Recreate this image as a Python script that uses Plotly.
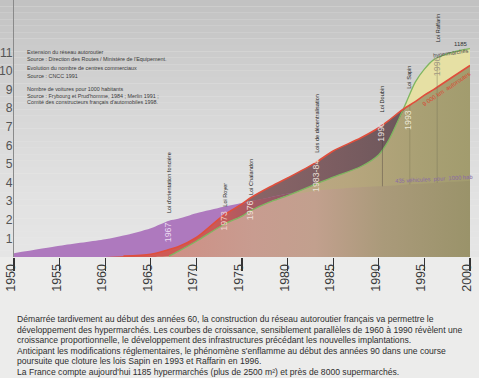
import numpy as np
import plotly.graph_objects as go

# ---------------- data ----------------
years = [1950, 1955, 1960, 1962, 1965, 1967, 1968, 1970, 1973, 1975, 1976, 1978, 1980,
         1983, 1985, 1988, 1990, 1991, 1992, 1993, 1994, 1995, 1996, 1998, 2000]
voitures = [0.2, 0.6, 0.95, 1.15, 1.55, 1.95, 2.05, 2.35, 2.7, 2.9, 3.0, 3.2, 3.4,
            3.55, 3.65, 3.75, 3.8, 3.83, 3.86, 3.9, 3.92, 3.95, 3.98, 4.04, 4.1]
autoroutes = [0, 0, 0, 0.05, 0.15, 0.4, 0.55, 1.05, 2.25, 2.85, 3.2, 3.75, 4.25,
              5.05, 5.7, 6.4, 6.95, 7.3, 7.7, 8.05, 8.35, 8.7, 9.0, 9.65, 10.3]
hypers = [0, 0, 0, 0, 0, 0.05, 0.3, 0.85, 1.75, 2.2, 2.5, 2.95, 3.3,
          3.9, 4.3, 4.85, 5.5, 6.2, 7.2, 8.3, 9.4, 10.1, 10.6, 11.0, 11.2]

x_ticks = [1950, 1955, 1960, 1965, 1970, 1975, 1980, 1985, 1990, 1995, 2000]
y_ticks = [1, 2, 3, 4, 5, 6, 7, 8, 9, 10, 11]

law_dates = ["1967", "1973", "1976", "1983-84", "1990", "1993", "1996"]
law_names = ["Loi d'orientation foncière", "Loi Royer", "Loi Chalandon",
             "Lois de décentralisation", "Loi Doubin", "Loi Sapin", "Loi Raffarin"]
law_years = [1966.9, 1973.0, 1975.9, 1983.1, 1990.2, 1993.2, 1996.4]

source_lines = [
    "Extension du réseau autoroutier",
    "Source : Direction des Routes / Ministère de l'Equipement.",
    "Evolution du nombre de centres commerciaux",
    "Source : CNCC 1991",
    "Nombre de voitures pour 1000 habitants",
    "Source : Frybourg et Prud'homme, 1984 ; Merlin 1991 ;",
    "Comité des constructeurs français d'automobiles 1998.",
]
paragraph = [
    "Démarrée tardivement au début des années 60, la construction du réseau autoroutier français va permettre le",
    "développement des hypermarchés. Les courbes de croissance, sensiblement parallèles de 1960 à 1990 révèlent une",
    "croissance proportionnelle, le développement des infrastructures précédant les nouvelles implantations.",
    "Anticipant les modifications réglementaires, le phénomène s'enflamme au début des années 90 dans une course",
    "poursuite que cloture les lois Sapin en 1993 et Raffarin en 1996.",
    "La France compte aujourd'hui 1185 hypermarchés (plus de 2500 m²) et près de 8000 supermarchés.",
]

# ---------------- layout helpers ----------------
W, H = 479, 378
L, R, T, B = 14, 9, 0, 121
PW, PH = W - L - R, H - T - B
FONT = "Liberation Sans, Arial, sans-serif"


def px_x(px):
    return (px - L) / PW


def px_y(py):
    return (H - B - py) / PH


v = np.array(voitures)
a = np.array(autoroutes)
h = np.array(hypers)
min_av = np.minimum(a, v)
min_ah = np.minimum(a, h)
min_all = np.minimum(min_av, h)

fig = go.Figure()


def area(y, color=None, grad=None):
    kw = dict(x=years, y=y, mode="lines", fill="tozeroy",
              line=dict(width=0, shape="spline", smoothing=0.8),
              hoverinfo="skip", showlegend=False)
    if grad is not None:
        kw["fillgradient"] = grad
    else:
        kw["fillcolor"] = color
    fig.add_trace(go.Scatter(**kw))


def hgrad(stops, start, stop):
    return dict(type="horizontal", start=start, stop=stop, colorscale=stops)


# hypermarchés alone (yellow)
area(h, color="#e6e0a4")
# autoroutes alone (dark mauve)
area(a, grad=hgrad([[0, "#8a6668"], [0.5, "#7e5e62"], [1, "#6c575b"]], 1975, 1993))
# voitures alone (purple)
area(v, color="#ae79be")
# autoroutes + voitures (red -> mauve)
area(min_av, grad=hgrad([[0, "#d65a52"], [0.55, "#c95a58"], [0.8, "#9a5a66"], [1, "#855a62"]], 1960, 1982))
# autoroutes + hypermarchés (light olive)
area(min_ah, grad=hgrad([[0, "#c0a888"], [0.4, "#b7a67e"], [0.75, "#a9a074"], [1, "#a29c6e"]], 1978, 2000))
# all three (salmon -> olive)
area(min_all, grad=hgrad([[0, "#cf8e84"], [0.3, "#c89c90"], [0.5, "#c2a08e"], [0.72, "#aa9a7a"],
                          [1, "#9a936a"]], 1966, 2000))

# curve lines
fig.add_trace(go.Scatter(x=years[5:], y=hypers[5:], mode="lines",
                         line=dict(color="#7fb660", width=1.3, shape="spline", smoothing=0.8),
                         hoverinfo="skip", showlegend=False))
fig.add_trace(go.Scatter(x=years[3:], y=autoroutes[3:], mode="lines",
                         line=dict(color="#e04e3c", width=1.6, shape="spline", smoothing=0.8),
                         hoverinfo="skip", showlegend=False))

# ---------------- background gradient ----------------
shapes = []
stops_y = [0.0, 0.25, 0.6, 1.0]
stops_c = [(230, 230, 230), (226, 226, 226), (214, 214, 214), (194, 194, 194)]
N = 40
for i in range(N):
    yc = (i + 0.5) / N
    rgb = [int(np.interp(yc, stops_y, [c[k] for c in stops_c])) for k in range(3)]
    shapes.append(dict(type="rect", xref="paper", yref="paper", x0=-0.05, x1=1.05,
                       y0=i / N, y1=(i + 1) / N, fillcolor="rgb(%d,%d,%d)" % tuple(rgb),
                       line=dict(width=0), layer="below"))

# vertical markers for 1990, 1993, 1996
for yr, col in [(1990, "rgba(70,60,60,0.5)"), (1993, "rgba(90,85,60,0.3)"), (1996, "rgba(120,115,90,0.55)")]:
    i = years.index(yr)
    shapes.append(dict(type="line", xref="x", yref="y", x0=yr + 0.4, x1=yr + 0.4,
                       y0=voitures[i], y1=max(hypers[i], autoroutes[i]) - 0.15,
                       line=dict(color=col, width=0.8), layer="above"))

annotations = []
# source text (top left)
src_y = [52, 59, 68, 76, 89, 96, 102]
for txt, py in zip(source_lines, src_y):
    annotations.append(dict(text=txt, xref="paper", yref="paper", x=px_x(25), y=px_y(py),
                            xanchor="left", yanchor="middle", showarrow=False,
                            font=dict(family=FONT, size=5.4, color="#3a3a3a")))

# law labels
date_y = [1.34, 1.94, 2.53, 4.35, 6.72, 7.37, 10.27]
date_col = ["#ecdcf2", "#f2d4ce", "#f0e0dc", "#ebe0d8", "#e8e0e0", "#eeead6", "#a29a82"]
name_y = [3.98, 3.33, 4.31, 7.2, 8.5, 9.68, 12.3]
for d, n, xx, dy, dc, ny in zip(law_dates, law_names, law_years, date_y, date_col, name_y):
    annotations.append(dict(text=d, x=xx, y=dy, xref="x", yref="y", textangle=-90,
                            showarrow=False, font=dict(family=FONT, size=8.8, color=dc)))
    annotations.append(dict(text=n, x=xx + 0.1, y=ny, xref="x", yref="y", textangle=-90,
                            showarrow=False, font=dict(family=FONT, size=5.6, color="#222222")))

annotations.append(dict(text="1185", x=1999.0, y=11.45, xref="x", yref="y", showarrow=False,
                        font=dict(family=FONT, size=6, color="#333")))
annotations.append(dict(text="hypermarchés", x=1997.9, y=10.95, xref="x", yref="y", showarrow=False,
                        textangle=-8, font=dict(family=FONT, size=5.6, color="#444")))
annotations.append(dict(text="435 véhicules  pour  1000 hab", x=1996.0, y=4.2, xref="x", yref="y",
                        showarrow=False, textangle=-3,
                        font=dict(family=FONT, size=5.8, color="#8a6aa6")))
annotations.append(dict(text="9 000 km  autoroutes", x=1997.4, y=9.05, xref="x", yref="y",
                        showarrow=False, textangle=-34,
                        font=dict(family=FONT, size=6, color="#d84a34")))

# paragraph
para_y = [319, 329.6, 340.2, 350.8, 361.4, 372]
for txt, py in zip(paragraph, para_y):
    annotations.append(dict(text=txt, xref="paper", yref="paper", x=px_x(15), y=px_y(py),
                            xanchor="left", yanchor="middle", showarrow=False,
                            font=dict(family=FONT, size=8.6, color="#2e2e2e")))

fig.update_layout(
    width=W, height=H,
    margin=dict(l=L, r=R, t=T, b=B, pad=0),
    paper_bgcolor="#ececeb",
    plot_bgcolor="rgba(0,0,0,0)",
    shapes=shapes,
    annotations=annotations,
    font=dict(family=FONT),
    xaxis=dict(range=[1950, 2000], tickvals=x_ticks, ticktext=[str(t) for t in x_ticks],
               tickangle=-90, ticks="outside", ticklen=13, tickwidth=1.2, tickcolor="#333",
               ticklabelstandoff=-12, ticklabelshift=-3, showgrid=False, zeroline=False,
               showline=False, automargin=False,
               tickfont=dict(family=FONT, size=12.5, color="#3a3a3a")),
    yaxis=dict(range=[0, PH / 18.6], tickvals=y_ticks, ticks="", showgrid=False,
               zeroline=False, showline=True, linecolor="#8a8a8a", linewidth=1,
               automargin=False, ticklabelstandoff=-2,
               tickfont=dict(family=FONT, size=12.2, color="#555")),
)

fig.write_html(
    "out.html",
    config={"displayModeBar": False, "staticPlot": True},
    post_script="document.body.style.margin='0px';document.body.style.overflow='hidden';"
                "document.body.style.background='#ececeb';",
)
